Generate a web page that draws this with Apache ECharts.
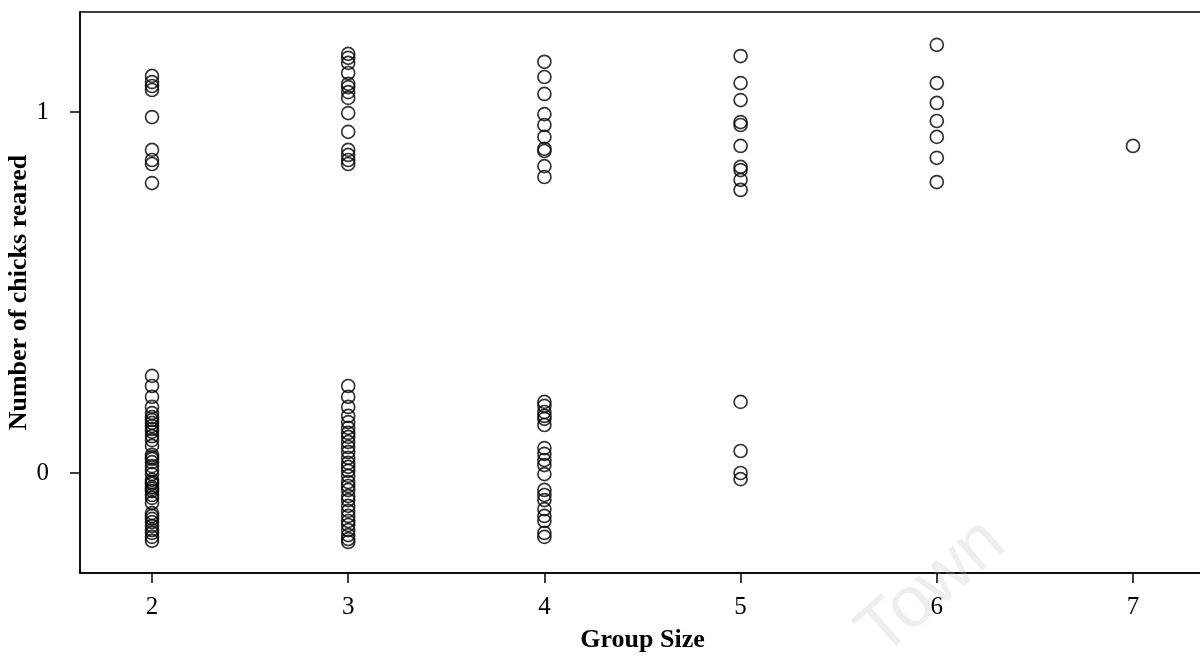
<!DOCTYPE html>
<html>
<head>
<meta charset="utf-8">
<script src="https://cdn.jsdelivr.net/npm/echarts@6/dist/echarts.min.js"></script>
<style>
html,body{margin:0;padding:0;background:#fff;}
#chart{width:1200px;height:659px;}
</style>
</head>
<body>
<div id="chart"></div>
<script>
// Group sizes (x) and jittered "number of chicks reared" values (y) per group
const groupSizes = [2, 3, 4, 5, 6, 7];
const xTickLabels = [2, 3, 4, 5, 6, 7];
const yTickLabels = [0, 1];

const chicksGroup2 = [
  1.100, 1.083, 1.072, 1.061, 0.986, 0.895, 0.867, 0.856, 0.803,
  0.269, 0.241, 0.211, 0.183, 0.166, 0.155, 0.147, 0.139, 0.130, 0.122, 0.114,
  0.102, 0.091, 0.075, 0.050, 0.044, 0.039, 0.030, 0.019, 0.008, -0.003,
  -0.019, -0.025, -0.030, -0.039, -0.044, -0.050, -0.061, -0.069, -0.083,
  -0.111, -0.119, -0.127, -0.136, -0.147, -0.158, -0.166, -0.177, -0.188
];
const chicksGroup3 = [
  1.161, 1.150, 1.136, 1.108, 1.078, 1.069, 1.055, 1.039, 0.997, 0.945,
  0.895, 0.881, 0.867, 0.856,
  0.241, 0.211, 0.183, 0.158, 0.141, 0.125, 0.111, 0.100, 0.086, 0.072,
  0.058, 0.042, 0.028, 0.017, 0.006, -0.008, -0.025, -0.036, -0.047, -0.064,
  -0.075, -0.091, -0.105, -0.119, -0.133, -0.144, -0.158, -0.172, -0.183, -0.191
];
const chicksGroup4 = [
  1.139, 1.097, 1.050, 0.994, 0.964, 0.931, 0.898, 0.892, 0.850, 0.820,
  0.197, 0.186, 0.169, 0.158, 0.150, 0.133, 0.069, 0.053, 0.036, 0.022,
  -0.003, -0.047, -0.061, -0.075, -0.100, -0.119, -0.133, -0.166, -0.177
];
const chicksGroup5 = [
  1.155, 1.080, 1.033, 0.972, 0.964, 0.906, 0.848, 0.839, 0.812, 0.784,
  0.197, 0.061, 0.000, -0.017
];
const chicksGroup6 = [1.186, 1.080, 1.025, 0.975, 0.931, 0.873, 0.806];
const chicksGroup7 = [0.906];

const chicksByGroup = [chicksGroup2, chicksGroup3, chicksGroup4, chicksGroup5, chicksGroup6, chicksGroup7];

const points = [];
groupSizes.forEach((g, i) => {
  chicksByGroup[i].forEach(v => points.push([g, v]));
});

const serif = '"Liberation Serif", "DejaVu Serif", serif';
const chart = echarts.init(document.getElementById('chart'), null, {renderer: 'canvas'});
chart.setOption({
  animation: false,
  backgroundColor: '#fff',
  grid: {
    left: 80, right: -5, top: 12, bottom: 86,
    outerBoundsMode: 'none',
    containLabel: false,
    show: true, borderColor: '#000', borderWidth: 1.5, backgroundColor: 'transparent'
  },
  xAxis: {
    type: 'value',
    min: 1.633, max: 7.367,
    name: 'Group Size',
    nameLocation: 'middle',
    nameGap: 54,
    nameMoveOverlap: false,
    nameTextStyle: {fontFamily: serif, fontWeight: 'bold', fontSize: 26, color: '#000'},
    axisLine: {show: true, onZero: false, lineStyle: {color: '#000', width: 1.5}},
    axisTick: {show: true, inside: false, length: 10, lineStyle: {color: '#000', width: 1.5}, customValues: xTickLabels},
    axisLabel: {fontFamily: serif, fontSize: 25, color: '#000', margin: 22, customValues: xTickLabels},
    splitLine: {show: false}
  },
  yAxis: {
    type: 'value',
    min: -0.277, max: 1.277,
    name: 'Number of chicks reared',
    nameLocation: 'middle',
    nameGap: 48,
    nameMoveOverlap: false,
    nameRotate: 90,
    nameTextStyle: {fontFamily: serif, fontWeight: 'bold', fontSize: 26, color: '#000'},
    axisLine: {show: true, onZero: false, lineStyle: {color: '#000', width: 1.5}},
    axisTick: {show: true, inside: false, length: 10, lineStyle: {color: '#000', width: 1.5}, customValues: yTickLabels},
    axisLabel: {fontFamily: serif, fontSize: 25, color: '#000', margin: 31, customValues: yTickLabels},
    splitLine: {show: false}
  },
  graphic: [{
    type: 'text',
    x: 932, y: 588,
    rotation: 0.72,
    style: {
      text: 'Town', fill: '#eeeeee',
      font: '72px "Liberation Sans", sans-serif',
      align: 'center', verticalAlign: 'middle'
    },
    z: 0, silent: true
  }],
  series: [{
    type: 'scatter',
    data: points,
    symbol: 'circle',
    symbolSize: 13,
    itemStyle: {color: 'rgba(0,0,0,0)', borderColor: '#000', borderWidth: 1.7},
    z: 5
  }]
});
</script>
</body>
</html>
